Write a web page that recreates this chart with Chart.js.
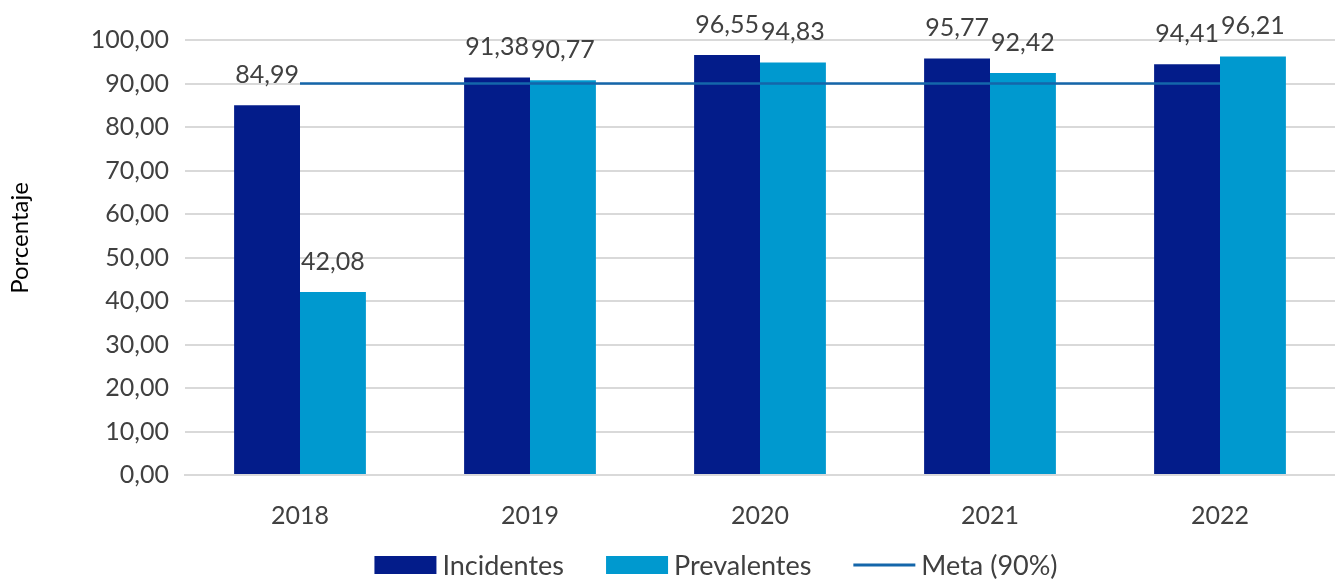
<!DOCTYPE html>
<html>
<head>
<meta charset="utf-8">
<script src="https://cdn.jsdelivr.net/npm/chart.js@4.4.1/dist/chart.umd.min.js"></script>
<style>
  html, body { margin: 0; padding: 0; background: #fff; }
  #wrap { width: 1335px; height: 579px; }
</style>
</head>
<body>
<div id="wrap"><canvas id="chart"></canvas></div>
<script>
const years = ['2018', '2019', '2020', '2021', '2022'];
const incidentes = [84.99, 91.38, 96.55, 95.77, 94.41];
const prevalentes = [42.08, 90.77, 94.83, 92.42, 96.21];
const meta = [90, 90, 90, 90, 90];
const yTicks = [0, 10, 20, 30, 40, 50, 60, 70, 80, 90, 100];

const colors = {
  incidentes: '#031c8a',
  prevalentes: '#0099cf',
  meta: '#1466aa',
  grid: '#d9d9d9',
  text: '#404040'
};

const FONT = 'Lato, "Noto Sans", sans-serif';

function fmt(v) {
  return v.toFixed(2).replace('.', ',');
}

// value labels above the bars
const barLabels = {
  id: 'barLabels',
  afterDatasetsDraw(chart) {
    const ctx = chart.ctx;
    ctx.save();
    ctx.font = '25px ' + FONT;
    ctx.fillStyle = colors.text;
    ctx.textAlign = 'center';
    ctx.textBaseline = 'alphabetic';
    chart.data.datasets.forEach(function (ds, i) {
      if (ds.type === 'line') return;
      chart.getDatasetMeta(i).data.forEach(function (bar, j) {
        ctx.fillText(fmt(ds.data[j]), bar.x, bar.y - 22);
      });
    });
    ctx.restore();
  }
};

// axis title and legend, laid out like the original
const decorations = {
  id: 'decorations',
  afterDraw(chart) {
    const ctx = chart.ctx;
    ctx.save();

    // y title
    ctx.font = '24px ' + FONT;
    ctx.fillStyle = '#000';
    ctx.textAlign = 'center';
    ctx.textBaseline = 'middle';
    ctx.translate(20, 238);
    ctx.rotate(-Math.PI / 2);
    ctx.fillText('Porcentaje', 0, 0);
    ctx.setTransform(1, 0, 0, 1, 0, 0);

    // legend
    const boxW = 62, boxH = 18, gap = 6, spacing = 42, cy = 565, centerX = 716;
    ctx.font = '27px ' + FONT;
    ctx.textAlign = 'left';
    const items = chart.data.datasets.map(function (ds) {
      return { ds: ds, w: boxW + gap + ctx.measureText(ds.label).width };
    });
    const total = items.reduce(function (s, it) { return s + it.w; }, 0) + spacing * (items.length - 1);
    let x = centerX - total / 2;
    items.forEach(function (it) {
      const ds = it.ds;
      if (ds.type === 'line') {
        ctx.strokeStyle = ds.borderColor;
        ctx.lineWidth = 3;
        ctx.beginPath();
        ctx.moveTo(x, cy);
        ctx.lineTo(x + boxW, cy);
        ctx.stroke();
      } else {
        ctx.fillStyle = ds.backgroundColor;
        ctx.fillRect(x, cy - boxH / 2, boxW, boxH);
      }
      ctx.fillStyle = colors.text;
      ctx.fillText(ds.label, x + boxW + gap, cy + 1);
      x += it.w + spacing;
    });
    ctx.restore();
  }
};

new Chart(document.getElementById('chart'), {
  type: 'bar',
  data: {
    labels: years,
    datasets: [
      {
        label: 'Incidentes',
        data: incidentes,
        backgroundColor: colors.incidentes,
        order: 1
      },
      {
        label: 'Prevalentes',
        data: prevalentes,
        backgroundColor: colors.prevalentes,
        order: 1
      },
      {
        type: 'line',
        label: 'Meta (90%)',
        data: meta,
        borderColor: colors.meta,
        backgroundColor: colors.meta,
        borderWidth: 2.5,
        pointRadius: 0,
        fill: false,
        order: 0
      }
    ]
  },
  options: {
    responsive: true,
    maintainAspectRatio: false,
    animation: false,
    layout: { padding: { top: 40, right: 0, left: 0, bottom: 30 } },
    datasets: {
      bar: { categoryPercentage: 0.573, barPercentage: 1.0 }
    },
    plugins: {
      tooltip: { enabled: false },
      legend: { display: false }
    },
    scales: {
      x: {
        grid: { display: false },
        border: { display: true, color: colors.grid, width: 2 },
        ticks: { color: colors.text, font: { family: FONT, size: 25 }, padding: 18 }
      },
      y: {
        min: 0,
        max: 100,
        afterFit: function (scale) { scale.width = 185; },
        afterBuildTicks: function (scale) {
          scale.ticks = yTicks.map(function (v) { return { value: v }; });
        },
        grid: { color: colors.grid, lineWidth: 2, drawTicks: false },
        border: { display: false },
        ticks: {
          color: colors.text,
          font: { family: FONT, size: 25 },
          padding: 16,
          callback: function (v) { return fmt(v); }
        }
      }
    }
  },
  plugins: [barLabels, decorations]
});
</script>
</body>
</html>
